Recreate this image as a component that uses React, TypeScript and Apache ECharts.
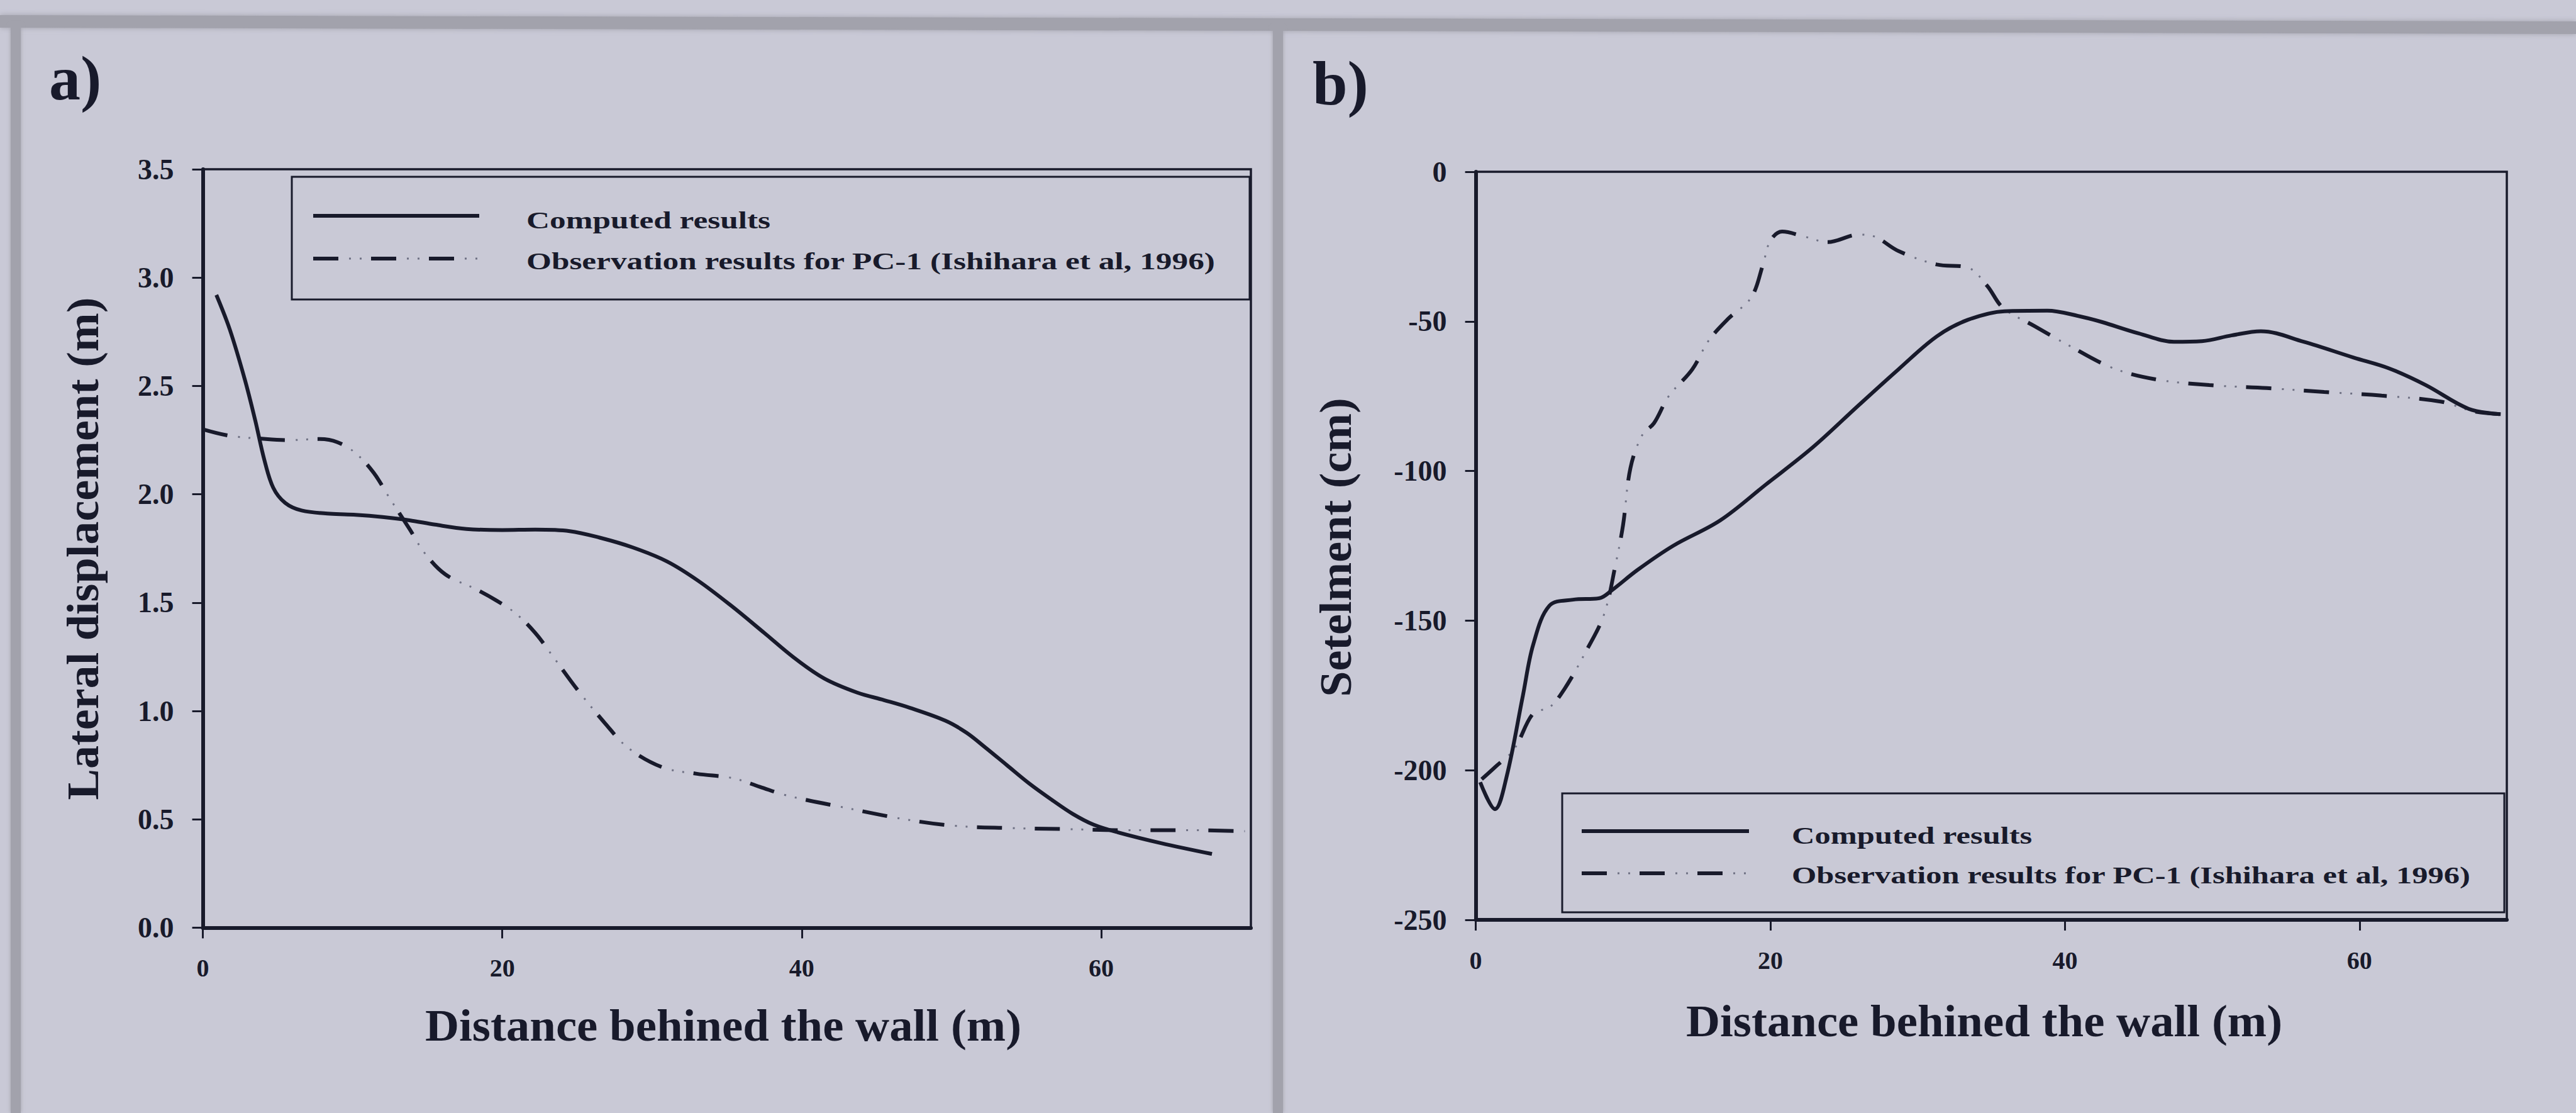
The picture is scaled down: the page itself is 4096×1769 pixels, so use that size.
import React, { useEffect, useRef } from "react";
import * as echarts from "echarts";

const W = 4096;
const H = 1769;

const INK = "#181a2b";
const DOT = "#6f7184";
const PAPER = "#c9c9d6";
const FRAME = "#a2a2ac";
const SERIF = '"Liberation Serif", "Times New Roman", serif';

// a) lateral displacement (m) against distance behind the wall (m)
const lateralComputed: [number, number][] = [
  [0.9, 2.92], [1.8, 2.76], [2.8, 2.53], [3.5, 2.34], [4.1, 2.16], [4.7, 2.03],
  [5.5, 1.96], [6.6, 1.925], [8.5, 1.91], [10.2, 1.905], [12.0, 1.895], [13.8, 1.88],
  [15.5, 1.86], [17.6, 1.84], [20.0, 1.835], [22.2, 1.837], [24.5, 1.83], [26.5, 1.8],
  [28.7, 1.755], [31.0, 1.69], [33.1, 1.6], [35.3, 1.485], [37.5, 1.36], [39.5, 1.245],
  [41.5, 1.15], [43.7, 1.085], [45.5, 1.05], [47.2, 1.015], [49.6, 0.955], [51.0, 0.9],
  [52.2, 0.835], [53.7, 0.75], [55.2, 0.665], [56.7, 0.59], [58.1, 0.525], [59.5, 0.475],
  [61.1, 0.44], [64.0, 0.39], [67.4, 0.34],
];
const lateralObserved: [number, number][] = [
  [0, 2.3], [1.8, 2.27], [4.2, 2.255], [5.7, 2.25], [7.8, 2.255], [9.0, 2.24],
  [10.2, 2.19], [11.4, 2.1], [12.4, 1.99], [13.8, 1.84], [14.8, 1.73], [16.2, 1.63],
  [18.3, 1.56], [19.6, 1.51], [20.9, 1.45], [22.2, 1.36], [23.4, 1.25], [25.0, 1.1],
  [26.9, 0.94], [28.4, 0.83], [30.7, 0.74], [33.0, 0.71], [35.4, 0.69], [37.2, 0.65],
  [39.0, 0.61], [42.8, 0.555], [46.9, 0.5], [50.2, 0.47], [53.7, 0.46], [57.5, 0.455],
  [61.4, 0.45], [65.5, 0.45], [69.6, 0.445],
];

// b) settlement (cm) against distance behind the wall (m)
const settleComputed: [number, number][] = [
  [0.3, -204], [1.3, -213], [2.1, -202], [3.2, -175], [3.9, -158], [5.0, -145],
  [6.6, -143], [8.4, -142.5], [9.2, -140], [11.0, -133], [13.4, -125], [16.6, -116.5],
  [19.7, -104.5], [22.9, -92], [26.0, -78], [28.7, -66], [31.3, -55], [33.4, -49.5],
  [35.9, -46.6], [38.8, -46.4], [41.0, -48.3], [42.5, -50.2], [45.0, -54], [47.4, -56.8],
  [49.3, -56.6], [51.3, -54.7], [53.3, -53.3], [56.2, -56.8], [59.6, -62.1], [62.0, -65.7],
  [64.5, -71.3], [67.4, -79.2], [69.5, -81],
];
const settleObserved: [number, number][] = [
  [0.4, -203], [1.3, -199], [2.6, -193], [3.9, -181], [5.0, -179], [6.0, -173],
  [7.4, -161], [8.7, -148], [9.5, -131], [10.0, -118], [10.5, -99], [11.3, -88],
  [12.1, -84], [13.1, -75], [14.7, -66], [15.8, -56.5], [17.1, -49.3], [18.7, -42],
  [19.5, -31], [20.0, -23], [20.8, -20], [22.4, -21.8], [23.9, -23.5], [26.0, -21],
  [27.1, -21.7], [28.7, -26.5], [31.3, -31], [33.4, -32], [34.7, -38], [35.8, -45.5],
  [37.9, -51.5], [40.1, -57.6], [43.2, -65.5], [46.2, -69.4], [49.8, -71.3], [53.7, -72.3],
  [57.6, -73.6], [61.5, -74.8], [65.5, -76.8], [67.7, -80], [69.6, -81],
];

const xTickValues = [0, 20, 40, 60];
const seriesNames = ["Computed results", "Observation results for PC-1 (Ishihara et al, 1996)"];
const panelLetters = ["a)", "b)"];
const xTitle = "Distance behined the wall (m)";
const yTitles = ["Lateral displacement (m)", "Setelment (cm)"];

// plot boxes in page pixels
const BOX_A = { left: 322.6, top: 269, right: 1989, bottom: 1474.4 };
const BOX_B = { left: 2346.6, top: 273, right: 3986, bottom: 1462 };

const DASH = [40, 52];
const DOTS = [3, 14, 3, 72];
const DOT_OFFSET = 35;

type Box = { left: number; top: number; right: number; bottom: number };

const gridOf = (b: Box) => ({
  left: b.left,
  top: b.top,
  width: b.right - b.left,
  height: b.bottom - b.top,
  show: true,
  borderColor: INK,
  borderWidth: 3.5,
  backgroundColor: "transparent",
});

const labelFont = (size: number) => ({
  color: INK,
  fontFamily: SERIF,
  fontWeight: "bold" as const,
  fontSize: size,
});

const xAxisOf = (gridIndex: number) => ({
  type: "value" as const,
  gridIndex,
  min: 0,
  max: 70,
  interval: 20,
  axisLine: { show: true, onZero: false, lineStyle: { color: INK, width: 6 } },
  axisTick: { show: true, length: 17, customValues: xTickValues, lineStyle: { color: INK, width: 3 } },
  axisLabel: { show: true, customValues: xTickValues, margin: 44, ...labelFont(40) },
  splitLine: { show: false },
});

const yAxisOf = (gridIndex: number, min: number, max: number, interval: number, fmt: (v: number) => string) => ({
  type: "value" as const,
  gridIndex,
  min,
  max,
  interval,
  axisLine: { show: true, onZero: false, lineStyle: { color: INK, width: 6 } },
  axisTick: { show: true, length: 17, lineStyle: { color: INK, width: 3 } },
  axisLabel: { show: true, margin: 46, formatter: fmt, ...labelFont(46) },
  splitLine: { show: false },
});

const lineSeries = (idx: number, data: [number, number][], style: object, z = 3) => ({
  type: "line" as const,
  xAxisIndex: idx,
  yAxisIndex: idx,
  data,
  symbol: "none",
  showSymbol: false,
  smooth: 0.35,
  silent: true,
  z,
  lineStyle: style,
});

const textEl = (
  text: string,
  x: number,
  y: number,
  size: number,
  opts: { align?: string; scaleX?: number; rotation?: number } = {}
) => ({
  type: "text",
  x,
  y,
  rotation: opts.rotation ?? 0,
  scaleX: opts.scaleX ?? 1,
  silent: true,
  style: {
    text,
    x: 0,
    y: 0,
    font: `bold ${size}px ${SERIF}`,
    fill: INK,
    align: opts.align ?? "left",
    textAlign: opts.align ?? "left",
    verticalAlign: "middle",
    textVerticalAlign: "middle",
  },
});

const legendEls = (
  box: { x: number; y: number; w: number; h: number },
  lineX: [number, number],
  rowY: [number, number],
  textX: number,
  textY: [number, number],
  stretch: number
) => [
  {
    type: "rect",
    silent: true,
    shape: { x: box.x, y: box.y, width: box.w, height: box.h },
    style: { fill: "transparent", stroke: INK, lineWidth: 3 },
  },
  {
    type: "line",
    silent: true,
    shape: { x1: lineX[0], y1: rowY[0], x2: lineX[1], y2: rowY[0] },
    style: { stroke: INK, lineWidth: 6 },
  },
  {
    type: "line",
    silent: true,
    shape: { x1: lineX[0], y1: rowY[1], x2: lineX[1], y2: rowY[1] },
    style: { stroke: INK, lineWidth: 6, lineDash: DASH },
  },
  {
    type: "line",
    silent: true,
    shape: { x1: lineX[0], y1: rowY[1], x2: lineX[1], y2: rowY[1] },
    style: { stroke: DOT, lineWidth: 3, lineDash: DOTS, lineDashOffset: DOT_OFFSET },
  },
  textEl(seriesNames[0], textX, textY[0], 38, { scaleX: stretch }),
  textEl(seriesNames[1], textX, textY[1], 38, { scaleX: stretch }),
];

function buildOption() {
  const solid = { color: INK, width: 6 };
  const dashed = { color: INK, width: 6, type: DASH, cap: "butt" };
  const dotted = { color: DOT, width: 3, type: DOTS, dashOffset: DOT_OFFSET, cap: "butt" };

  return {
    animation: false,
    backgroundColor: PAPER,
    grid: [gridOf(BOX_A), gridOf(BOX_B)],
    xAxis: [xAxisOf(0), xAxisOf(1)],
    yAxis: [
      yAxisOf(0, 0, 3.5, 0.5, (v: number) => v.toFixed(1)),
      yAxisOf(1, -250, 0, 50, (v: number) => String(v)),
    ],
    series: [
      { name: seriesNames[0], ...lineSeries(0, lateralComputed, solid, 4) },
      { name: seriesNames[1], ...lineSeries(0, lateralObserved, dashed) },
      lineSeries(0, lateralObserved, dotted),
      { name: seriesNames[0], ...lineSeries(1, settleComputed, solid, 4) },
      { name: seriesNames[1], ...lineSeries(1, settleObserved, dashed) },
      lineSeries(1, settleObserved, dotted),
    ],
    graphic: {
      elements: [
        // outer mount: top band, left edge and the divider between the panels
        {
          type: "polygon",
          silent: true,
          z: -10,
          shape: { points: [[0, 24], [W, 34], [W, 54], [0, 44]] },
          style: { fill: FRAME, shadowBlur: 8, shadowColor: FRAME },
        },
        {
          type: "rect",
          silent: true,
          z: -10,
          shape: { x: 17, y: 40, width: 16, height: H - 40 },
          style: { fill: FRAME, shadowBlur: 6, shadowColor: FRAME },
        },
        {
          type: "rect",
          silent: true,
          z: -10,
          shape: { x: 2024, y: 44, width: 16, height: H - 44 },
          style: { fill: FRAME, shadowBlur: 6, shadowColor: FRAME },
        },
        textEl(panelLetters[0], 78, 124, 100),
        textEl(panelLetters[1], 2087, 132, 100),
        textEl(xTitle, 1150, 1630, 72, { align: "center", scaleX: 1.04 }),
        textEl(xTitle, 3155, 1623, 72, { align: "center", scaleX: 1.04 }),
        textEl(yTitles[0], 132, 872, 72, { align: "center", scaleX: 1.03, rotation: Math.PI / 2 }),
        textEl(yTitles[1], 2124, 870, 72, { align: "center", scaleX: 1.03, rotation: Math.PI / 2 }),
        ...legendEls({ x: 464, y: 281, w: 1523, h: 195 }, [498, 762], [343, 411], 837, [350, 415], 1.35),
        ...legendEls({ x: 2484, y: 1261, w: 1498, h: 189 }, [2515, 2781], [1321, 1388], 2849, [1328, 1391], 1.33),
      ],
    },
  };
}

export default function App() {
  const ref = useRef<HTMLDivElement>(null);
  useEffect(() => {
    if (!ref.current) return;
    const chart = echarts.init(ref.current, undefined, { renderer: "svg", width: W, height: H });
    chart.setOption(buildOption() as any);
    return () => chart.dispose();
  }, []);
  return (
    <div
      ref={ref}
      style={{ position: "fixed", left: 0, top: 0, width: W, height: H, background: PAPER }}
    />
  );
}
